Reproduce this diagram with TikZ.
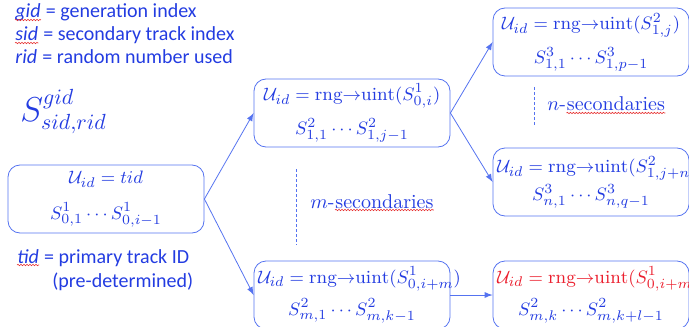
\documentclass[tikz,border=0pt]{standalone}
\usepackage{fontspec}
\usepackage{amsmath}
\setsansfont{Carlito}
\usetikzlibrary{decorations.pathmorphing}
\definecolor{inkblue}{RGB}{35,60,225}
\definecolor{lineblue}{RGB}{85,115,240}
\definecolor{spellred}{RGB}{230,50,50}
\definecolor{alertred}{RGB}{235,30,45}
\tikzset{
  stage/.style={draw=lineblue, rounded corners=6pt, minimum width=98pt, minimum height=34pt,
    text width=94pt, align=center, text=inkblue, inner sep=2pt, font=\fontsize{9.3}{11}\selectfont},
  legend/.style={anchor=base west, inner sep=0pt, text=inkblue, font=\sffamily\fontsize{10}{12}\selectfont},
  remark/.style={anchor=base west, inner sep=0pt, text=inkblue},
  link/.style={->, draw=lineblue},
  gap/.style={draw=lineblue, dash pattern=on 1.5pt off 1pt},
  squiggle/.style={spellred, line width=0.3pt, decorate,
    decoration={snake, amplitude=0.35pt, segment length=1.5pt}},
}
\newcommand{\drawn}[1]{\mbox{$\mathcal{U}_{id} = \mathrm{rng}{\to}\mathrm{uint}(#1)$}}
\begin{document}
\begin{tikzpicture}[>=latex, x=0.5pt, y=-0.5pt]
    \useasboundingbox (0,0) rectangle (689,326);

    % legend
    \node[legend] (gid) at (15,18) {\textit{gid}};
    \node[legend] (gidtxt) at (gid.base east) {\ = generation index};
    \node[legend] (sid) at (15,41) {\textit{sid}};
    \node[legend] (sidtxt) at (sid.base east) {\ = secondary track index};
    \node[legend] (rid) at (15,64) {\textit{rid}};
    \node[legend] (ridtxt) at (rid.base east) {\ = random number used};
    \draw[squiggle] ([yshift=-1pt]gid.base west) -- ([yshift=-1pt]gid.base east);
    \draw[squiggle] ([yshift=-1pt]sid.base west) -- ([yshift=-1pt]sid.base east);

    \node[remark, anchor=west, font=\fontsize{16}{19}\selectfont] (sym) at (20,112)
        {$S^{gid}_{sid,rid}$};

    % first generation
    \node[stage] (g0) at (106,199) {\mbox{$\mathcal{U}_{id} = tid$}\\[7pt]
        \mbox{$S^1_{0,1}\cdots S^1_{0,i-1}$}};
    \node[legend] (tid) at (17,263) {\textit{tid}};
    \node[legend] (tidtxt) at (tid.base east) {\ = primary track ID};
    \node[legend] (pre) at (52,287) {(pre-determined)};
    \draw[squiggle] ([yshift=-1pt]tid.base west) -- ([yshift=-1pt]tid.base east);

    % second generation
    \node[stage] (g1a) at (352,113) {\drawn{S^1_{0,i}}\\[4pt]
        \mbox{$S^2_{1,1}\cdots S^2_{1,j-1}$}};
    \node[stage] (g1b) at (352,295) {\drawn{S^1_{0,i+m}}\\[3pt]
        \mbox{$S^2_{m,1}\cdots S^2_{m,k-1}$}};
    \draw[gap] (296,169) -- (296,245);
    \node[remark] (mm) at (310,208) {$m$-};
    \node[remark] (mword) at (mm.base east) {secondaries};
    \draw[squiggle] ([yshift=-1pt]mword.base west) -- ([yshift=-1pt]mword.base east);

    % third generation
    \node[stage] (g2a) at (591,42) {\drawn{S^2_{1,j}}\\[4pt]
        \mbox{$S^3_{1,1}\cdots S^3_{1,p-1}$}};
    \node[stage] (g2b) at (591,182) {\drawn{S^2_{1,j+n}}\\[1pt]
        \mbox{$S^3_{n,1}\cdots S^3_{n,q-1}$}};
    \node[stage] (g2c) at (591,295) {\textcolor{alertred}{\drawn{S^1_{0,i+m}}}\\[3pt]
        \mbox{$S^2_{m,k}\cdots S^2_{m,k+l-1}$}};
    \draw[gap] (534,87) -- (534,127);
    \node[remark] (nn) at (547,111) {$n$-};
    \node[remark] (nword) at (nn.base east) {secondaries};
    \draw[squiggle] ([yshift=-1pt]nword.base west) -- ([yshift=-1pt]nword.base east);

    % links
    \draw[link] (g0.east) -- (g1a.west);
    \draw[link] (g0.east) -- (g1b.west);
    \draw[link] (g1a.east) -- (g2a.west);
    \draw[link] (g1a.east) -- (g2b.west);
    \draw[link] (g1b.east) -- (g2c.west);
\end{tikzpicture}
\end{document}
